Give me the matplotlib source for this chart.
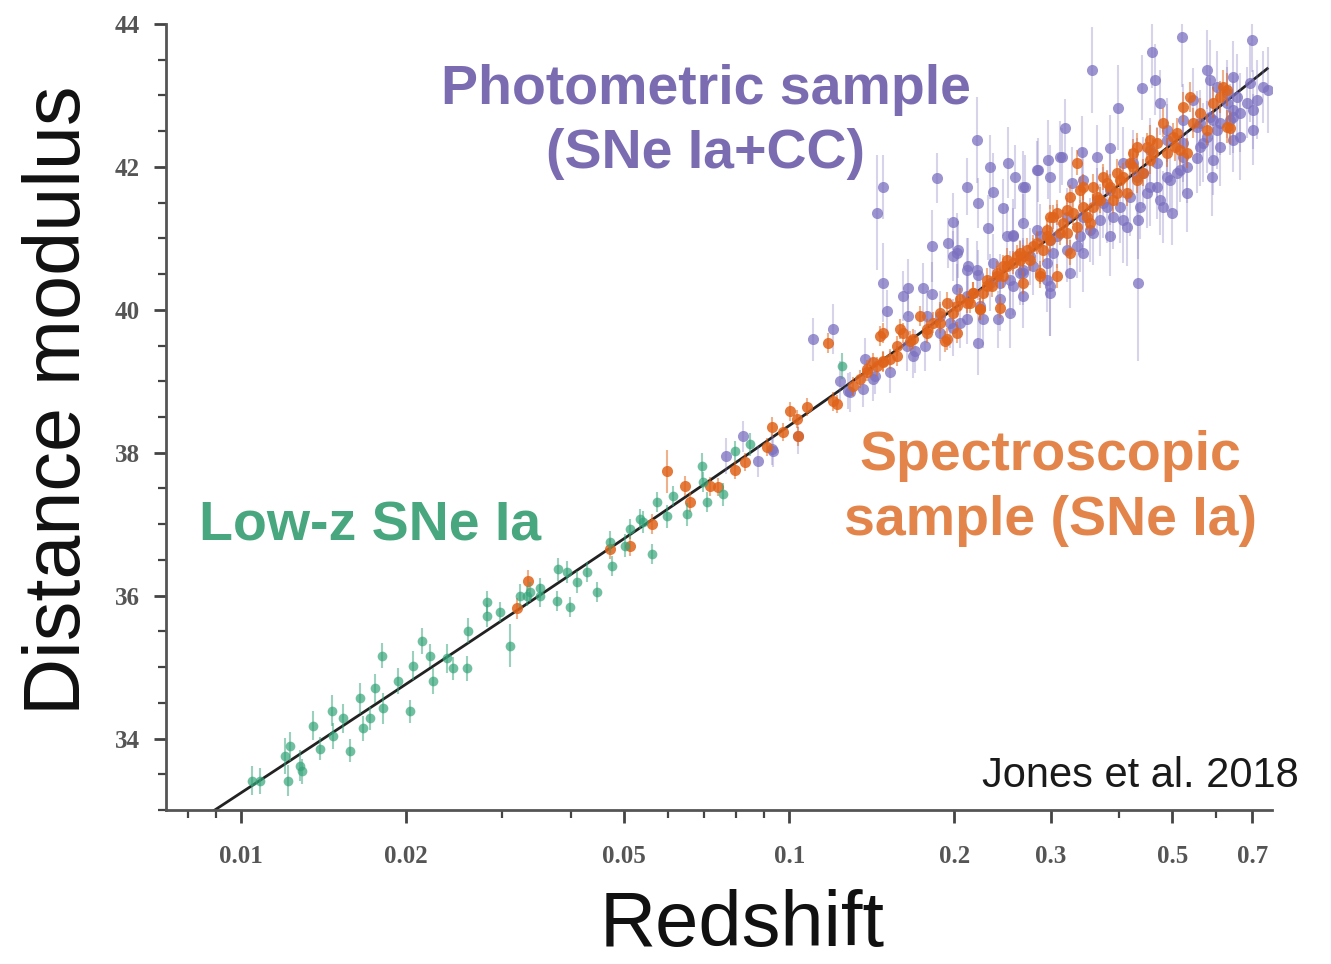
import numpy as np
import matplotlib.pyplot as plt

# Hubble diagram: low-z, spectroscopic and photometric SN samples

# low-z SNe Ia
lowz_z = [0.01047, 0.01083, 0.01218, 0.01203, 0.01229, 0.01281, 0.01292, 0.01353, 0.01394, 0.01465,
          0.01471, 0.01535, 0.01580, 0.01648, 0.01669, 0.01719, 0.01756, 0.01808, 0.01816, 0.01934,
          0.02034, 0.02060, 0.02139, 0.02212, 0.02240, 0.02376, 0.02436, 0.02584, 0.02595, 0.02810,
          0.03094, 0.02810, 0.02967, 0.03227, 0.03366, 0.03510, 0.03769, 0.03785, 0.03981, 0.04100,
          0.04276, 0.04459, 0.04709, 0.04749, 0.05015, 0.05121, 0.05409, 0.05617, 0.05735, 0.05983,
          0.06135, 0.06507, 0.06929, 0.06958, 0.07079, 0.07568, 0.07959, 0.12470, 0.08477, 0.05341,
          0.03510, 0.03324, 0.03931]
lowz_mu = [33.41, 33.41, 33.41, 33.76, 33.89, 33.62, 33.54, 34.18, 33.86, 34.39,
           34.04, 34.28, 33.83, 34.56, 34.14, 34.28, 34.70, 35.16, 34.42, 34.80,
           34.38, 35.02, 35.36, 35.16, 34.80, 35.12, 34.98, 34.98, 35.51, 35.91,
           35.30, 35.72, 35.77, 36.00, 36.05, 36.00, 35.93, 36.37, 35.84, 36.19,
           36.33, 36.05, 36.75, 36.42, 36.70, 36.93, 37.03, 36.58, 37.31, 37.11,
           37.39, 37.14, 37.81, 37.59, 37.31, 37.42, 38.02, 39.21, 38.12, 37.07,
           36.10, 36.00, 36.33]
lowz_err = [0.20, 0.18, 0.22, 0.25, 0.20, 0.22, 0.18, 0.20, 0.16, 0.22,
            0.18, 0.20, 0.16, 0.22, 0.18, 0.16, 0.20, 0.18, 0.22, 0.18,
            0.16, 0.20, 0.18, 0.16, 0.18, 0.20, 0.16, 0.18, 0.18, 0.16,
            0.30, 0.16, 0.14, 0.16, 0.14, 0.16, 0.14, 0.16, 0.14, 0.16,
            0.14, 0.14, 0.16, 0.14, 0.16, 0.14, 0.16, 0.14, 0.14, 0.16,
            0.14, 0.16, 0.18, 0.14, 0.14, 0.16, 0.14, 0.18, 0.16, 0.14,
            0.14, 0.14, 0.16]

# spectroscopically confirmed SNe Ia
spec_z = [0.03187, 0.03337, 0.04709, 0.05121, 0.05617, 0.05983, 0.06452, 0.06589, 0.07166, 0.07411,
          0.07959, 0.0830, 0.09104, 0.09297, 0.09737, 0.1003, 0.1033, 0.1037, 0.1077, 0.1201,
          0.1221, 0.1345, 0.1385, 0.1445, 0.1482, 0.1463, 0.1176, 0.1421, 0.1526, 0.1572,
          0.1611, 0.1659, 0.1782, 0.1730, 0.1828, 0.1922, 0.1882, 0.2022, 0.2135, 0.2254,
          0.2342, 0.2452, 0.2391, 0.2557, 0.2667, 0.2421, 0.2226, 0.1482, 0.1591, 0.1938,
          0.2047, 0.2162, 0.2293, 0.2494, 0.2601, 0.2712, 0.2828, 0.2950, 0.2987, 0.3076,
          0.3208, 0.3248, 0.3388, 0.3578, 0.3794, 0.3957, 0.4179, 0.4304, 0.4545, 0.4800,
          0.5091, 0.5220, 0.5376, 0.5775, 0.6175, 0.6280, 0.3076, 0.2864, 0.2667, 0.2452,
          0.3345, 0.2781, 0.2864, 0.3248, 0.3025, 0.3155, 0.3289, 0.3431, 0.3639, 0.3891,
          0.4007, 0.4413, 0.4488, 0.4681, 0.5048, 0.5309, 0.5444, 0.6359, 0.6280,
          0.3533, 0.4127, 0.3431, 0.3731, 0.4232, 0.3115, 0.2950,
          0.2633, 0.2746, 0.2900, 0.2987, 0.3208, 0.3345, 0.3489, 0.3578, 0.3684, 0.3842,
          0.3957, 0.4058, 0.4232, 0.4304, 0.4545, 0.4603, 0.4882, 0.5006, 0.5155, 0.5607,
          0.5921, 0.6098, 0.1306, 0.1385, 0.1482, 0.1572, 0.1680, 0.1782, 0.1882, 0.1988,
          0.2108, 0.2162, 0.2293, 0.2391, 0.2494, 0.2633, 0.1938, 0.2022, 0.2226]
spec_mu = [35.82, 36.21, 36.65, 36.70, 37.00, 37.74, 37.53, 37.31, 37.53, 37.52,
           37.76, 37.87, 38.08, 38.36, 38.29, 38.58, 38.47, 38.23, 38.64, 38.72,
           38.68, 39.03, 39.17, 39.21, 39.28, 39.63, 39.54, 39.27, 39.31, 39.49,
           39.68, 39.56, 39.68, 39.91, 39.82, 39.56, 39.96, 40.05, 40.10, 40.24,
           40.33, 40.61, 40.47, 40.66, 40.75, 40.03, 40.01, 39.68, 39.73, 40.10,
           40.15, 40.24, 40.42, 40.70, 40.75, 40.84, 40.94, 41.12, 41.30, 41.36,
           41.40, 41.58, 41.68, 41.72, 41.78, 41.92, 42.06, 42.28, 42.38, 42.62,
           42.48, 42.84, 42.98, 42.52, 43.12, 42.56, 40.47, 40.47, 40.38, 40.47,
           42.06, 40.89, 40.52, 40.80, 41.30, 41.22, 41.36, 41.44, 41.58, 41.54,
           41.82, 41.92, 42.28, 42.34, 42.28, 42.20, 42.62, 42.55, 43.08,
           41.22, 41.64, 41.72, 41.86, 42.20, 41.08, 41.03,
           40.80, 40.70, 40.84, 40.98, 41.08, 41.16, 41.30, 41.44, 41.54, 41.72,
           41.64, 41.86, 42.00, 41.82, 42.10, 42.20, 42.20, 42.42, 42.24, 42.76,
           42.90, 42.98, 38.93, 39.13, 39.27, 39.35, 39.59, 39.73, 39.82, 39.96,
           40.10, 40.24, 40.33, 40.52, 40.61, 40.70, 39.59, 39.68, 40.01]
spec_err = [0.15, 0.15, 0.14, 0.14, 0.14, 0.30, 0.14, 0.14, 0.13, 0.13,
            0.13, 0.13, 0.13, 0.14, 0.13, 0.13, 0.13, 0.13, 0.13, 0.13,
            0.13, 0.13, 0.13, 0.13, 0.14, 0.14, 0.14, 0.13, 0.14, 0.14,
            0.14, 0.14, 0.15, 0.14, 0.15, 0.15, 0.15, 0.15, 0.15, 0.15,
            0.15, 0.16, 0.15, 0.16, 0.16, 0.15, 0.15, 0.14, 0.14, 0.15,
            0.15, 0.15, 0.16, 0.16, 0.16, 0.16, 0.16, 0.17, 0.17, 0.17,
            0.17, 0.17, 0.18, 0.18, 0.18, 0.19, 0.19, 0.19, 0.20, 0.20,
            0.21, 0.21, 0.21, 0.22, 0.23, 0.23, 0.17, 0.16, 0.16, 0.16,
            0.18, 0.16, 0.16, 0.17, 0.17, 0.17, 0.17, 0.18, 0.18, 0.18,
            0.19, 0.19, 0.19, 0.20, 0.20, 0.21, 0.21, 0.23, 0.23,
            0.18, 0.19, 0.18, 0.18, 0.19, 0.17, 0.17,
            0.16, 0.16, 0.17, 0.17, 0.17, 0.17, 0.18, 0.18, 0.18, 0.18,
            0.19, 0.19, 0.19, 0.19, 0.20, 0.20, 0.20, 0.20, 0.21, 0.21,
            0.22, 0.22, 0.13, 0.13, 0.14, 0.14, 0.14, 0.14, 0.15, 0.15,
            0.15, 0.15, 0.15, 0.16, 0.16, 0.16, 0.15, 0.15, 0.15]

# photometrically classified sample (Ia + core collapse)
phot_z = [0.07664, 0.08231, 0.08767, 0.09336, 0.1037, 0.1104, 0.1237, 0.1279, 0.1362, 0.1374,
          0.1433, 0.1201, 0.1445, 0.1482, 0.1859, 0.2108, 0.2322, 0.2351, 0.2452, 0.2208,
          0.1988, 0.1820, 0.1946, 0.2030, 0.1988, 0.2302, 0.2557, 0.2667, 0.1482, 0.1611,
          0.1645, 0.1752, 0.1820, 0.1507, 0.1645, 0.2117, 0.2208, 0.1694, 0.1767, 0.1988,
          0.2208, 0.2047, 0.2401, 0.2525, 0.2667, 0.09297, 0.3563, 0.4583, 0.5198, 0.6974,
          0.5775, 0.4641, 0.4395, 0.3973, 0.3181, 0.2504, 0.2689, 0.2828, 0.2962, 0.2987,
          0.3141, 0.3417, 0.3639, 0.2557, 0.2864, 0.3275, 0.3842, 0.4058, 0.4322, 0.4985,
          0.4800, 0.4322, 0.5896, 0.5537, 0.5155, 0.6632, 0.7004, 0.7460, 0.6440, 0.6280,
          0.5921, 0.5607, 0.2987, 0.3431, 0.3794, 0.4232, 0.4545, 0.4882, 0.5444, 0.6022,
          0.6440, 0.6098, 0.4740, 0.5220, 0.2199, 0.2579, 0.2667, 0.2840, 0.3115, 0.2022,
          0.3533, 0.2987, 0.2494, 0.2199, 0.2108, 0.2950, 0.3345, 0.3731, 0.4304, 0.4943,
          0.5220, 0.5678, 0.6098, 0.6280, 0.6549, 0.5847, 0.6916, 0.6440, 0.4882, 0.4545,
          0.4058, 0.3431, 0.3208, 0.2828, 0.2351, 0.2322, 0.2022, 0.2108, 0.2226, 0.1963,
          0.1882, 0.2421, 0.2667, 0.2746, 0.3076, 0.3431, 0.3639, 0.3842, 0.4179, 0.4413,
          0.4681, 0.5220, 0.5537, 0.5847,
          0.2525, 0.2633, 0.2781, 0.2950, 0.3025, 0.3208, 0.3388, 0.3578, 0.3684, 0.3891,
          0.4007, 0.4127, 0.4358, 0.4488, 0.4681, 0.4882, 0.5091, 0.5309, 0.5607, 0.5775,
          0.6022, 0.6359, 0.6632, 0.6830, 0.7123, 0.7305, 0.2987, 0.3248, 0.3842, 0.4740,
          0.5309, 0.5921, 0.6440, 0.7004, 0.1782, 0.1882, 0.2108, 0.2254, 0.2421, 0.2557,
          0.2667, 0.1639, 0.1680, 0.1526, 0.1421, 0.1290]
phot_mu = [37.95, 38.23, 37.88, 38.02, 38.23, 39.59, 39.00, 38.86, 38.89, 39.31,
           39.07, 39.73, 41.36, 41.72, 41.85, 41.72, 42.00, 41.65, 41.43, 41.50,
           41.23, 40.89, 40.94, 40.84, 40.75, 41.15, 41.05, 41.22, 40.38, 40.19,
           40.31, 40.31, 40.22, 39.98, 39.91, 40.61, 40.49, 39.42, 39.49, 39.75,
           39.54, 39.82, 39.87, 39.96, 40.19, 38.05, 43.36, 43.61, 43.82, 43.78,
           43.36, 43.22, 43.11, 42.83, 42.55, 42.06, 41.72, 41.96, 42.10, 41.86,
           42.14, 42.21, 42.14, 41.03, 41.03, 41.78, 42.27, 41.26, 41.26, 41.36,
           41.44, 40.38, 41.86, 42.13, 41.96, 42.42, 42.80, 43.08, 43.26, 43.04,
           42.66, 42.62, 40.33, 40.80, 41.44, 42.06, 41.72, 42.38, 42.94, 43.12,
           42.80, 42.28, 42.90, 42.66, 42.38, 41.86, 41.72, 41.96, 42.14, 40.80,
           41.12, 40.98, 41.03, 40.56, 40.56, 40.66, 40.89, 41.50, 41.86, 41.82,
           42.14, 42.34, 42.62, 42.90, 42.98, 43.22, 43.18, 42.70, 42.52, 42.24,
           42.06, 41.82, 41.30, 41.12, 40.66, 40.38, 40.29, 40.19, 40.05, 39.82,
           39.91, 40.38, 40.56, 40.75, 41.03, 41.30, 41.54, 41.68, 41.58, 41.92,
           42.06, 42.34, 42.56, 42.70,
           40.42, 40.52, 40.61, 40.42, 40.80, 40.84, 41.03, 41.08, 41.26, 41.30,
           41.44, 41.16, 41.44, 41.64, 41.72, 41.86, 41.92, 42.00, 42.28, 42.42,
           42.52, 42.66, 42.76, 42.90, 42.94, 43.12, 40.24, 40.52, 41.03, 41.54,
           41.64, 42.10, 42.38, 42.52, 39.91, 39.68, 39.87, 39.87, 40.15, 40.33,
           40.52, 39.49, 39.35, 39.13, 39.03, 38.85]
phot_err = [0.25, 0.22, 0.22, 0.22, 0.25, 0.30, 0.28, 0.25, 0.25, 0.30,
            0.25, 0.35, 0.80, 0.45, 0.35, 0.40, 0.45, 0.55, 0.40, 0.35,
            0.40, 0.50, 0.35, 0.40, 0.35, 0.45, 0.50, 0.40, 0.55, 0.35,
            0.40, 0.35, 0.45, 0.30, 0.35, 0.40, 0.35, 0.30, 0.35, 0.40,
            0.45, 0.35, 0.40, 0.50, 0.45, 0.22, 0.60, 0.50, 0.70, 0.45,
            0.55, 0.50, 0.45, 0.60, 0.40, 0.50, 0.45, 0.40, 0.55, 0.45,
            0.40, 0.50, 0.45, 0.40, 0.45, 0.50, 0.45, 0.60, 0.55, 0.45,
            0.50, 1.10, 0.55, 0.50, 0.45, 0.60, 0.55, 0.60, 0.50, 0.45,
            0.50, 0.45, 0.70, 0.55, 0.50, 0.45, 0.55, 0.50, 0.45, 0.50,
            0.50, 0.55, 0.45, 0.50, 0.60, 0.45, 0.50, 0.45, 0.50, 0.55,
            0.45, 0.40, 0.45, 0.40, 0.45, 0.50, 0.45, 0.50, 0.55, 0.45,
            0.50, 0.55, 0.45, 0.50, 0.60, 0.55, 0.55, 0.50, 0.45, 0.45,
            0.50, 0.45, 0.40, 0.45, 0.40, 0.40, 0.35, 0.40, 0.45, 0.35,
            0.35, 0.40, 0.45, 0.40, 0.45, 0.50, 0.45, 0.50, 0.55, 0.50,
            0.50, 0.55, 0.50, 0.55,
            0.40, 0.45, 0.40, 0.45, 0.50, 0.45, 0.50, 0.45, 0.50, 0.45,
            0.50, 0.55, 0.45, 0.50, 0.45, 0.50, 0.55, 0.50, 0.55, 0.50,
            0.55, 0.50, 0.55, 0.50, 0.55, 0.50, 0.60, 0.50, 0.55, 0.50,
            0.55, 0.50, 0.45, 0.50, 0.35, 0.40, 0.35, 0.40, 0.45, 0.40,
            0.45, 0.35, 0.30, 0.30, 0.30, 0.28]

major_z = [0.01, 0.02, 0.05, 0.1, 0.2, 0.3, 0.5, 0.7]
major_labels = ['0.01', '0.02', '0.05', '0.1', '0.2', '0.3', '0.5', '0.7']
minor_z = [0.008, 0.009, 0.03, 0.04, 0.06, 0.07, 0.08, 0.09, 0.4, 0.6]

# flat LCDM used for the model curve
H0 = 68.0
OMEGA_M = 0.3
C_KMS = 299792.458


def distance_modulus(z):
    zz = np.linspace(0.0, z, 400)
    inv_e = 1.0 / np.sqrt(OMEGA_M * (1 + zz) ** 3 + 1 - OMEGA_M)
    d_l = (1 + z) * C_KMS / H0 * np.trapezoid(inv_e, zz)  # Mpc
    return 5 * np.log10(d_l * 1e5)


def draw_sample(ax, z, mu, err, color, ms, alpha, bar_alpha, zorder):
    eb = ax.errorbar(z, mu, yerr=err, fmt='o', ms=ms, color=color, mec='none',
                     ecolor=color, elinewidth=1.5, alpha=alpha, zorder=zorder)
    eb[2][0].set_alpha(bar_alpha)
    return eb


GREEN = '#35a47a'
ORANGE = '#e0631a'
PURPLE = '#7b70c0'

fig = plt.figure(figsize=(13.31, 9.64), dpi=100)
ax = fig.add_axes([0.1247, 0.1598, 0.8310, 0.8153])

# model line
z_line = np.geomspace(0.0073, 0.745, 300)
ax.plot(z_line, [distance_modulus(z) for z in z_line], color='#222222', lw=2.0, zorder=2)

draw_sample(ax, phot_z, phot_mu, phot_err, PURPLE, 8, 0.75, 0.3, 3)
draw_sample(ax, spec_z, spec_mu, spec_err, ORANGE, 8, 0.85, 0.5, 4)
draw_sample(ax, lowz_z, lowz_mu, lowz_err, GREEN, 7, 0.7, 0.5, 5)

ax.set_xscale('log')
ax.set_xlim(0.0073, 0.76)
ax.set_ylim(33.0, 44.0)
ax.set_xticks(major_z)
ax.set_xticklabels(major_labels)
ax.set_xticks(minor_z, minor=True)
ax.set_xticklabels([], minor=True)
ax.set_yticks(np.arange(34, 45, 2))
ax.set_yticks(np.arange(33, 44.01, 0.5), minor=True)

for side in ['top', 'right']:
    ax.spines[side].set_visible(False)
for side in ['left', 'bottom']:
    ax.spines[side].set_color('#555555')
    ax.spines[side].set_linewidth(2.0)

ax.tick_params(which='major', length=9, width=2.0, color='#444444',
               labelsize=18, labelcolor='#555555')
ax.tick_params(which='minor', length=6, width=1.6, color='#444444')
ax.tick_params(axis='x', which='major', pad=16)
ax.tick_params(axis='y', which='major', pad=10)
for lab in ax.get_xticklabels() + ax.get_yticklabels():
    lab.set_family('Liberation Serif')
    lab.set_fontweight('bold')

# axis titles
fig.text(0.5575, 0.019, 'Redshift', fontsize=56, family='Liberation Sans',
         color='#111111', ha='center', va='baseline')
fig.text(0.0601, 0.5851, 'Distance modulus', fontsize=57, family='Liberation Sans',
         color='#111111', rotation=90, rotation_mode='anchor', ha='center', va='baseline')

# sample labels
bold = dict(fontsize=40, family='Liberation Sans', fontweight='bold', ha='center', va='baseline')
fig.text(0.5304, 0.8921, 'Photometric sample', color='#7b6cb2', **bold)
fig.text(0.5297, 0.8257, '(SNe Ia+CC)', color='#7b6cb2', **bold)
fig.text(0.2780, 0.4388, 'Low-z SNe Ia', color='#48a77f', **bold)
fig.text(0.7889, 0.5124, 'Spectroscopic', color='#e3844a', **bold)
fig.text(0.7896, 0.4450, 'sample (SNe Ia)', color='#e3844a', **bold)

fig.text(0.7378, 0.1836, 'Jones et al. 2018', fontsize=30, family='Liberation Sans',
         color='#1a1a1a', ha='left', va='baseline')

fig.savefig('out.png', dpi=100)
